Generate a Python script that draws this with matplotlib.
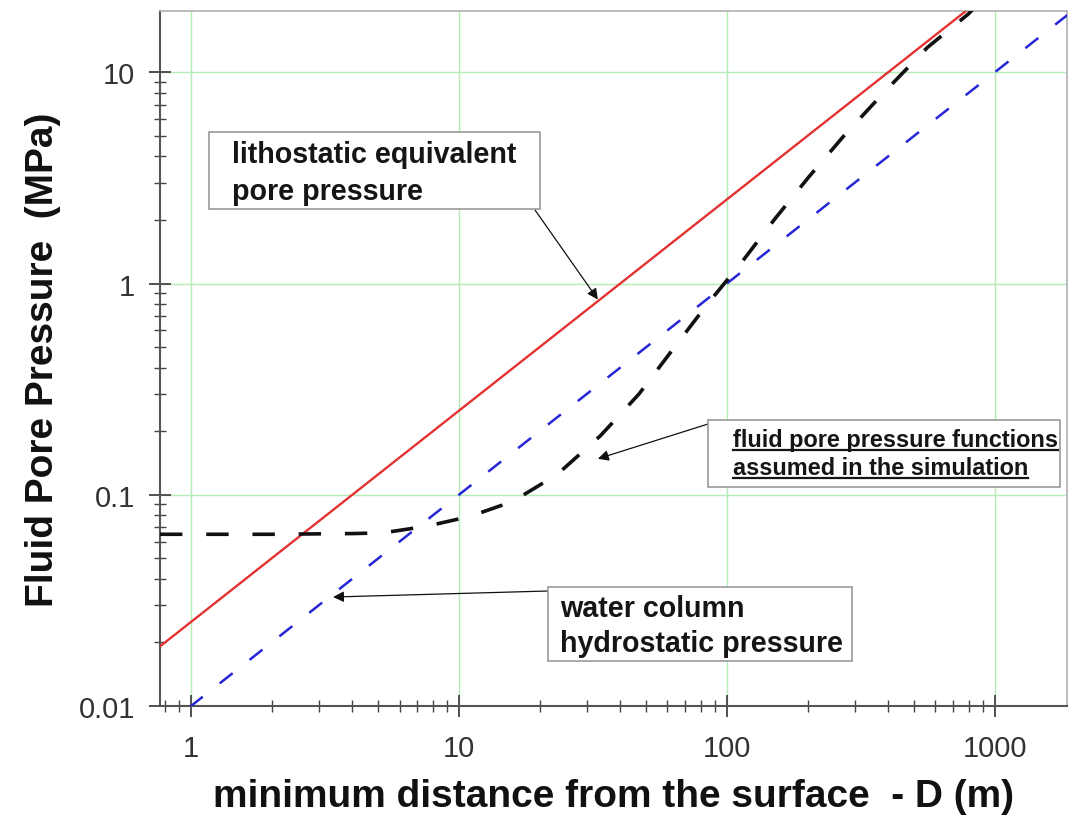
import numpy as np
import matplotlib
matplotlib.use("Agg")
import matplotlib.pyplot as plt
from matplotlib.patches import Rectangle
from matplotlib.lines import Line2D
from matplotlib.ticker import LogLocator, FixedLocator, FixedFormatter, NullFormatter

# ---------------- data ----------------
depth_lines = [0.766, 1900.0]              # D (m) range of the straight reference lines
litho_gradient = 0.025                     # MPa per m (lithostatic equivalent)
hydro_gradient = 0.010                     # MPa per m (water column hydrostatic)

fluid_depth = [0.766, 2, 4, 5.2, 7.6, 11, 15.9, 23.3, 33.7, 47, 63, 84, 113,
               150, 202, 277, 392, 560, 794, 850]
fluid_pressure = [0.065, 0.065, 0.0655, 0.066, 0.071, 0.079, 0.093, 0.125, 0.19,
                  0.30, 0.49, 0.79, 1.25, 2.0, 3.19, 5.1, 8.2, 13.1, 18.8, 20.5]

x_ticks = [1, 10, 100, 1000]
x_ticklabels = ["1", "10", "100", "1000"]
y_ticks = [0.01, 0.1, 1, 10]
y_ticklabels = ["0.01", "0.1", "1", "10"]

xlabel = "minimum distance from the surface  - D (m)"
ylabel = "Fluid Pore Pressure  (MPa)"

# ---------------- figure ----------------
W, H = 1074, 820
plt.rcParams['font.family'] = ['Liberation Sans', 'DejaVu Sans']
fig = plt.figure(figsize=(W / 100, H / 100), dpi=100)

L, R, T, B = 160, 1067, 12, 707
ax = fig.add_axes([L / W, 1 - B / H, (R - L) / W, (B - T) / H])
ax.set_xscale('log')
ax.set_yscale('log')
ax.set_xlim(0.766, 1860)
ax.set_ylim(0.01, 19.5)

# grid (major decades only)
ax.grid(True, which='major', color='#b4ecb4', lw=1.0)
ax.set_axisbelow(True)

D = np.array(depth_lines)
ax.plot(D, litho_gradient * D, color='#e43232', lw=1.7, solid_capstyle='butt', zorder=3)
ax.plot(D, hydro_gradient * D, color='#2626d6', lw=1.8, dashes=(6.6, 8.6), zorder=3)
ax.plot(fluid_depth, fluid_pressure, color='#111111', lw=2.6, dashes=(6.2, 6.6),
        zorder=4)

# ticks
ax.xaxis.set_major_locator(FixedLocator(x_ticks))
ax.xaxis.set_major_formatter(FixedFormatter(x_ticklabels))
ax.yaxis.set_major_locator(FixedLocator(y_ticks))
ax.yaxis.set_major_formatter(FixedFormatter(y_ticklabels))
ax.xaxis.set_minor_locator(LogLocator(base=10, subs=np.arange(2, 10), numticks=20))
ax.yaxis.set_minor_locator(LogLocator(base=10, subs=np.arange(2, 10), numticks=20))
ax.xaxis.set_minor_formatter(NullFormatter())
ax.yaxis.set_minor_formatter(NullFormatter())
ax.tick_params(which='major', direction='inout', length=16, width=1.3, color='#444444',
               labelsize=21, labelcolor='#333333', top=False, right=False)
ax.tick_params(which='minor', direction='inout', length=9, width=1.0, color='#444444',
               top=False, right=False)
ax.tick_params(axis='x', which='major', pad=12)
ax.tick_params(axis='y', which='major', pad=10)

for s in ['left', 'bottom']:
    ax.spines[s].set_color('#555555')
    ax.spines[s].set_linewidth(1.5)
for s in ['top', 'right']:
    ax.spines[s].set_color('#b0b0b0')
    ax.spines[s].set_linewidth(1.2)

ax.set_xlabel(xlabel, fontsize=28, fontweight='bold', color='#111111', labelpad=12)
ax.set_ylabel(ylabel, fontsize=28, fontweight='bold', color='#111111', labelpad=13)


def fx(px):
    return px / W


def fy(py):
    return 1 - py / H


def box(x0, y0, x1, y1):
    fig.add_artist(Rectangle((fx(x0), fy(y1)), fx(x1) - fx(x0), fy(y0) - fy(y1),
                             transform=fig.transFigure, facecolor='white',
                             edgecolor='#9a9a9a', lw=1.2, zorder=5))


def label(x, y, s, size):
    return fig.text(fx(x), fy(y), s, fontsize=size, fontweight='bold', color='#151515',
                    ha='left', va='baseline', zorder=6)


def arrow(tip_data, start_px):
    ax.annotate('', xy=tip_data, xycoords='data',
                xytext=(fx(start_px[0]), fy(start_px[1])), textcoords='figure fraction',
                arrowprops=dict(arrowstyle='-|>', color='#111111', lw=0.9,
                                mutation_scale=16, shrinkA=0, shrinkB=0),
                zorder=6)


# box 1: lithostatic
box(209, 133, 540, 210)
label(232, 163, "lithostatic equivalent", 20.6)
label(232, 200, "pore pressure", 20.6)
arrow((33, 0.84), (535, 211))

# box 2: fluid pore pressure functions (underlined)
box(708, 421, 1060, 488)
u1 = label(733, 447, "fluid pore pressure functions", 16.9)
u2 = label(733, 475, "assumed in the simulation", 16.9)
arrow((33, 0.148), (708, 425))

# box 3: hydrostatic
box(548, 588, 852, 662)
label(560, 617, "water column", 20.6)
label(560, 652, "hydrostatic pressure", 20.6)
arrow((3.39, 0.0328), (548, 592))

# underline box 2 text
fig.canvas.draw()
r = fig.canvas.get_renderer()
for t in (u1, u2):
    bb = t.get_window_extent(renderer=r)
    ybase = t.get_position()[1] * H - 4
    fig.add_artist(Line2D([bb.x0 / W, bb.x1 / W], [ybase / H, ybase / H],
                          transform=fig.transFigure, color='#151515', lw=1.6, zorder=7))

fig.savefig('out.png', dpi=100)
